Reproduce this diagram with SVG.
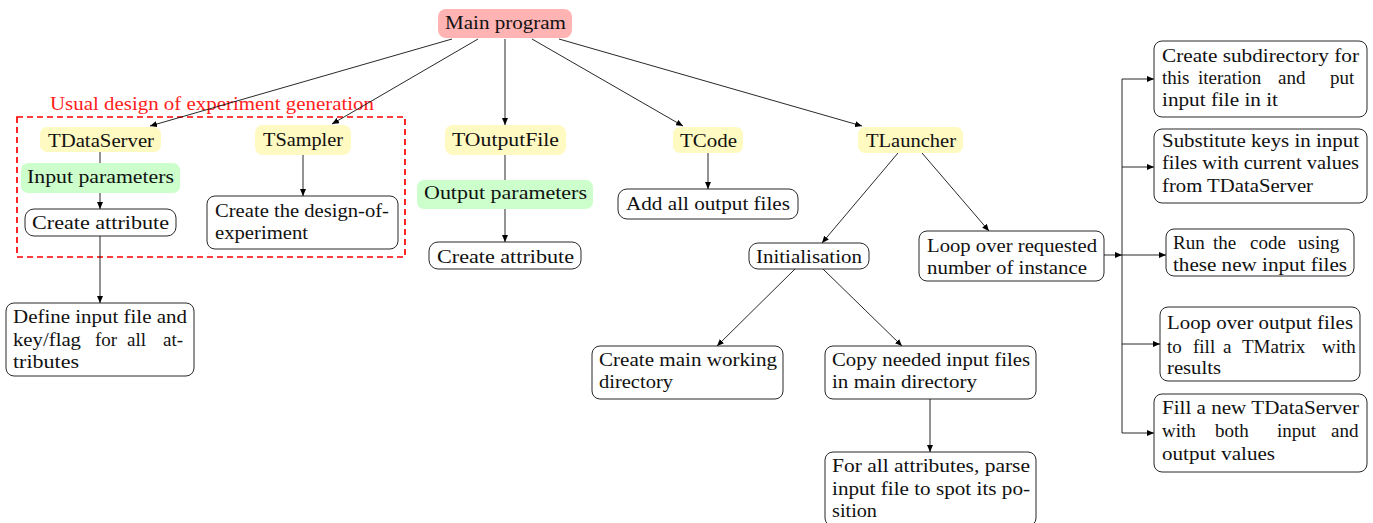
<svg xmlns="http://www.w3.org/2000/svg" width="1373" height="523" viewBox="0 0 1373 523">
<defs>
<marker id="arr" markerUnits="userSpaceOnUse" markerWidth="8" markerHeight="6" refX="7" refY="3" orient="auto">
<path d="M0,0 L7,3 L0,6 z" fill="#000"/>
</marker>
<style>
text{font-family:"Liberation Serif","Times New Roman",serif;font-size:19px;fill:#111}
.box{fill:#fff;stroke:#111;stroke-width:0.9}
.main{fill:#ffb3b3;stroke:none}
.cls{fill:#fff9c2;stroke:none}
.par{fill:#ccffcc;stroke:none}
.c{fill:none;stroke:#111;stroke-width:0.9}
.ca{fill:none;stroke:#111;stroke-width:0.9;marker-end:url(#arr)}
.grp{fill:none;stroke:#ff0000;stroke-width:1.7;stroke-dasharray:6 4}
</style>
</defs>
<rect width="1373" height="523" fill="#fff"/>

<g id="group-doe">
<rect class="grp" x="17" y="117" width="388" height="140"/>
<text x="50" y="110" textLength="324" lengthAdjust="spacingAndGlyphs" style="fill:#ff2020">Usual design of experiment generation</text>
</g>

<g id="connectors">
<line class="ca" x1="452" y1="39" x2="150" y2="126"/>
<line class="ca" x1="478" y1="39" x2="332" y2="124"/>
<line class="ca" x1="505" y1="39" x2="505" y2="125"/>
<line class="ca" x1="532" y1="39" x2="683" y2="126"/>
<line class="ca" x1="559" y1="39" x2="862" y2="126"/>
<line class="ca" x1="100" y1="152" x2="100" y2="209"/>
<line class="ca" x1="100" y1="236" x2="100" y2="303"/>
<line class="ca" x1="303" y1="155" x2="303" y2="196"/>
<line class="ca" x1="505" y1="155" x2="505" y2="242"/>
<line class="ca" x1="708" y1="153" x2="708" y2="189"/>
<line class="ca" x1="898" y1="153" x2="822" y2="243"/>
<line class="ca" x1="922" y1="153" x2="989" y2="231"/>
<line class="ca" x1="795" y1="269" x2="717" y2="346"/>
<line class="ca" x1="823" y1="269" x2="902" y2="346"/>
<line class="ca" x1="930" y1="399" x2="930" y2="452"/>
<line class="ca" x1="1104" y1="255" x2="1122" y2="255"/>
<line class="c" x1="1122" y1="79" x2="1122" y2="433"/>
<line class="ca" x1="1122" y1="79" x2="1154" y2="79"/>
<line class="ca" x1="1122" y1="167" x2="1154" y2="167"/>
<line class="ca" x1="1122" y1="255" x2="1166" y2="255"/>
<line class="ca" x1="1122" y1="344" x2="1160" y2="344"/>
<line class="ca" x1="1122" y1="433" x2="1154" y2="433"/>
</g>

<g id="main-program">
<rect class="main" x="438" y="9" width="134" height="29" rx="8"/>
<text x="445" y="29" textLength="121" lengthAdjust="spacingAndGlyphs">Main program</text>
</g>

<g id="tdataserver">
<rect class="cls" x="40" y="127" width="121" height="25" rx="7"/>
<text x="48" y="147" textLength="106" lengthAdjust="spacingAndGlyphs">TDataServer</text>
</g>
<g id="input-parameters">
<rect class="par" x="21" y="163" width="159" height="30" rx="7"/>
<text x="27" y="183" textLength="147" lengthAdjust="spacingAndGlyphs">Input parameters</text>
</g>
<g id="create-attribute-1">
<rect class="box" x="25" y="209" width="151" height="27" rx="9"/>
<text x="32" y="229" textLength="137" lengthAdjust="spacingAndGlyphs">Create attribute</text>
</g>
<g id="define-input-file">
<rect class="box" x="6" y="303" width="188" height="73" rx="8"/>
<text x="13" y="323" textLength="174" lengthAdjust="spacingAndGlyphs">Define input file and</text>
<text x="13" y="346" textLength="68" lengthAdjust="spacingAndGlyphs">key/flag</text>
<text x="95" y="346">for</text>
<text x="127" y="346">all</text>
<text x="163" y="346">at-</text>
<text x="13" y="368" textLength="66" lengthAdjust="spacingAndGlyphs">tributes</text>
</g>

<g id="tsampler">
<rect class="cls" x="255" y="125" width="96" height="30" rx="8"/>
<text x="263" y="146" textLength="80" lengthAdjust="spacingAndGlyphs">TSampler</text>
</g>
<g id="create-doe">
<rect class="box" x="207" y="196" width="191" height="53" rx="8"/>
<text x="215" y="217" textLength="174" lengthAdjust="spacingAndGlyphs">Create the design-of-</text>
<text x="215" y="239" textLength="93" lengthAdjust="spacingAndGlyphs">experiment</text>
</g>

<g id="toutputfile">
<rect class="cls" x="445" y="125" width="121" height="30" rx="8"/>
<text x="452" y="146" textLength="107" lengthAdjust="spacingAndGlyphs">TOutputFile</text>
</g>
<g id="output-parameters">
<rect class="par" x="417" y="180" width="176" height="29" rx="7"/>
<text x="424" y="199" textLength="163" lengthAdjust="spacingAndGlyphs">Output parameters</text>
</g>
<g id="create-attribute-2">
<rect class="box" x="429" y="242" width="152" height="27" rx="9"/>
<text x="437" y="263" textLength="137" lengthAdjust="spacingAndGlyphs">Create attribute</text>
</g>

<g id="tcode">
<rect class="cls" x="673" y="127" width="70" height="26" rx="7"/>
<text x="680" y="147" textLength="57" lengthAdjust="spacingAndGlyphs">TCode</text>
</g>
<g id="add-output-files">
<rect class="box" x="618" y="189" width="180" height="30" rx="9"/>
<text x="626" y="210" textLength="164" lengthAdjust="spacingAndGlyphs">Add all output files</text>
</g>

<g id="tlauncher">
<rect class="cls" x="858" y="127" width="105" height="26" rx="7"/>
<text x="866" y="147" textLength="90" lengthAdjust="spacingAndGlyphs">TLauncher</text>
</g>
<g id="initialisation">
<rect class="box" x="749" y="243" width="120" height="26" rx="9"/>
<text x="756" y="263" textLength="106" lengthAdjust="spacingAndGlyphs">Initialisation</text>
</g>
<g id="loop-instances">
<rect class="box" x="919" y="231" width="185" height="50" rx="8"/>
<text x="927" y="252" textLength="170" lengthAdjust="spacingAndGlyphs">Loop over requested</text>
<text x="927" y="274" textLength="160" lengthAdjust="spacingAndGlyphs">number of instance</text>
</g>
<g id="create-main-dir">
<rect class="box" x="592" y="346" width="191" height="53" rx="8"/>
<text x="599" y="366" textLength="178" lengthAdjust="spacingAndGlyphs">Create main working</text>
<text x="599" y="388" textLength="74" lengthAdjust="spacingAndGlyphs">directory</text>
</g>
<g id="copy-input-files">
<rect class="box" x="825" y="346" width="211" height="53" rx="8"/>
<text x="832" y="366" textLength="198" lengthAdjust="spacingAndGlyphs">Copy needed input files</text>
<text x="832" y="388" textLength="145" lengthAdjust="spacingAndGlyphs">in main directory</text>
</g>
<g id="parse-input-file">
<rect class="box" x="825" y="452" width="211" height="74" rx="8"/>
<text x="832" y="472" textLength="198" lengthAdjust="spacingAndGlyphs">For all attributes, parse</text>
<text x="832" y="495" textLength="198" lengthAdjust="spacingAndGlyphs">input file to spot its po-</text>
<text x="832" y="517" textLength="45" lengthAdjust="spacingAndGlyphs">sition</text>
</g>

<g id="create-subdir">
<rect class="box" x="1154" y="41" width="213" height="76" rx="8"/>
<text x="1162" y="62" textLength="197" lengthAdjust="spacingAndGlyphs">Create subdirectory for</text>
<text x="1162" y="84">this</text>
<text x="1198" y="84">iteration</text>
<text x="1278" y="84">and</text>
<text x="1330" y="84">put</text>
<text x="1162" y="106" textLength="116" lengthAdjust="spacingAndGlyphs">input file in it</text>
</g>
<g id="substitute-keys">
<rect class="box" x="1154" y="129" width="213" height="74" rx="8"/>
<text x="1162" y="147" textLength="197" lengthAdjust="spacingAndGlyphs">Substitute keys in input</text>
<text x="1162" y="169" textLength="197" lengthAdjust="spacingAndGlyphs">files with current values</text>
<text x="1162" y="192" textLength="151" lengthAdjust="spacingAndGlyphs">from TDataServer</text>
</g>
<g id="run-code">
<rect class="box" x="1166" y="229" width="188" height="47" rx="8"/>
<text x="1173" y="249">Run</text>
<text x="1213" y="249">the</text>
<text x="1250" y="249">code</text>
<text x="1298" y="249">using</text>
<text x="1173" y="271" textLength="174" lengthAdjust="spacingAndGlyphs">these new input files</text>
</g>
<g id="loop-output-files">
<rect class="box" x="1160" y="307" width="200" height="74" rx="8"/>
<text x="1167" y="329" textLength="186" lengthAdjust="spacingAndGlyphs">Loop over output files</text>
<text x="1167" y="353">to</text>
<text x="1193" y="353">fill</text>
<text x="1223" y="353">a</text>
<text x="1242" y="353">TMatrix</text>
<text x="1322" y="353">with</text>
<text x="1167" y="374" textLength="54" lengthAdjust="spacingAndGlyphs">results</text>
</g>
<g id="fill-tdataserver">
<rect class="box" x="1154" y="394" width="213" height="78" rx="8"/>
<text x="1162" y="414" textLength="197" lengthAdjust="spacingAndGlyphs">Fill a new TDataServer</text>
<text x="1162" y="437">with</text>
<text x="1215" y="437">both</text>
<text x="1277" y="437">input</text>
<text x="1331" y="437">and</text>
<text x="1162" y="460" textLength="113" lengthAdjust="spacingAndGlyphs">output values</text>
</g>
</svg>
